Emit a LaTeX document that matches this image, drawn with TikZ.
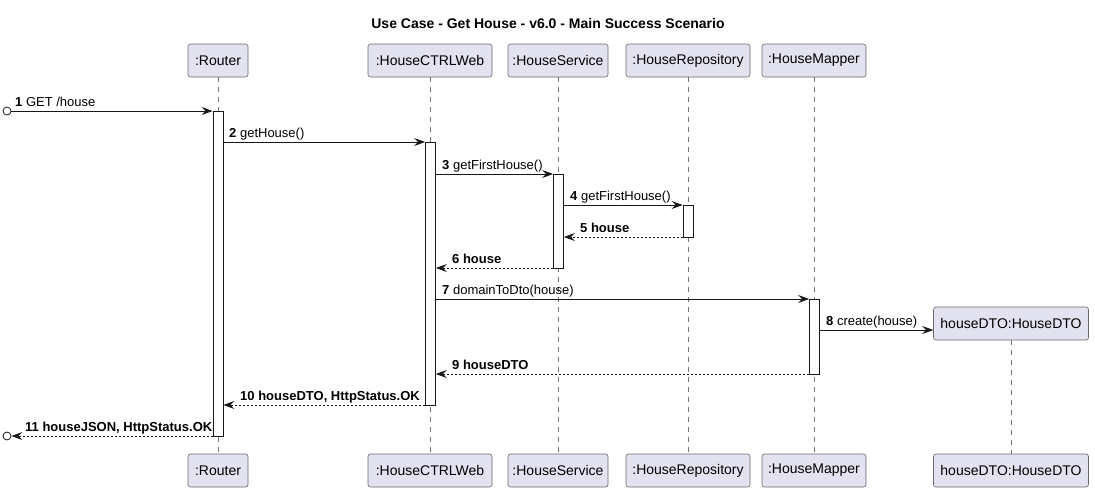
\documentclass[tikz,border=0pt]{standalone}
\usepackage{fontspec}
\setmainfont{Liberation Sans}
\usetikzlibrary{arrows.meta}
\definecolor{partfill}{HTML}{E2E2F0}
\definecolor{ink}{HTML}{181818}
\begin{document}
\begin{tikzpicture}[x=1pt,y=-1pt,
 part/.style={draw=ink!65, line width=0.6pt, fill=partfill, rounded corners=2.5pt, minimum height=33pt, inner sep=0pt, font=\fontsize{14}{16}\selectfont},
 life/.style={draw=ink!60, line width=0.5pt, dash pattern=on 5pt off 5pt},
 act/.style={draw=ink, fill=white, line width=0.8pt, minimum width=10pt, inner sep=0pt},
 msg/.style={draw=ink, line width=0.8pt, -{Stealth[length=11pt,width=8pt,inset=4pt]}},
 ret/.style={msg, dash pattern=on 2pt off 2pt},
 lbl/.style={anchor=base west, inner sep=0pt, font=\fontsize{13}{15}\selectfont},
 endpt/.style={circle, draw=ink, line width=0.8pt, fill=white, minimum size=8pt, inner sep=0pt},
 ]
\useasboundingbox (0,0) rectangle (1095,491);
\fill[white] (0,0) rectangle (1095,491);

\node[font=\fontsize{14}{16}\selectfont\bfseries] (title) at (548,23) {Use Case - Get House - v6.0 - Main Success Scenario};

% participants top
\node[part, minimum width=60pt] (rT) at (218,60.5) {:Router};
\node[part, minimum width=124pt] (cT) at (430,60.5) {:HouseCTRLWeb};
\node[part, minimum width=100pt] (sT) at (558,60.5) {:HouseService};
\node[part, minimum width=124pt] (pT) at (688,60.5) {:HouseRepository};
\node[part, minimum width=104pt] (mT) at (814,60.5) {:HouseMapper};
\node[part, minimum width=155pt] (dT) at (1011,323.5) {houseDTO:HouseDTO};
% participants bottom
\node[part, minimum width=60pt] (rB) at (218,470.5) {:Router};
\node[part, minimum width=124pt] (cB) at (430,470.5) {:HouseCTRLWeb};
\node[part, minimum width=100pt] (sB) at (558,470.5) {:HouseService};
\node[part, minimum width=124pt] (pB) at (688,470.5) {:HouseRepository};
\node[part, minimum width=104pt] (mB) at (814,470.5) {:HouseMapper};
\node[part, minimum width=155pt] (dB) at (1011,470.5) {houseDTO:HouseDTO};

% lifelines
\draw[life] (rT) -- (rB);
\draw[life] (cT) -- (cB);
\draw[life] (sT) -- (sB);
\draw[life] (pT) -- (pB);
\draw[life] (mT) -- (mB);
\draw[life] (dT) -- (dB);

% activations
\node[act, minimum height=325pt] (aR) at (218,273.5) {};
\node[act, minimum height=263pt] (aC) at (430.5,273.5) {};
\node[act, minimum height=94pt] (aS) at (558.5,221) {};
\node[act, minimum height=32pt] (aP) at (688,221) {};
\node[act, minimum height=75pt] (aM) at (814.5,336.5) {};

% messages
\node[endpt] (in1) at (7,111) {};
\draw[msg] (in1) -- (aR.west |- in1);
\node[lbl] (l1) at (15,106) {\textbf{1} GET /house};

\draw[msg] (aR.east |- 0,142) -- (aC.west |- 0,142);
\node[lbl] (l2) at (229,137) {\textbf{2} getHouse()};

\draw[msg] (aC.east |- 0,174) -- (aS.west |- 0,174);
\node[lbl] (l3) at (442,169) {\textbf{3} getFirstHouse()};

\draw[msg] (aS.east |- 0,205) -- (aP.west |- 0,205);
\node[lbl] (l4) at (570,200) {\textbf{4} getFirstHouse()};

\draw[ret] (aP.west |- 0,237) -- (aS.east |- 0,237);
\node[lbl] (l5) at (580,232) {\textbf{5 house}};

\draw[ret] (aS.west |- 0,268) -- (aC.east |- 0,268);
\node[lbl] (l6) at (452,263) {\textbf{6 house}};

\draw[msg] (aC.east |- 0,299) -- (aM.west |- 0,299);
\node[lbl] (l7) at (442,294) {\textbf{7} domainToDto(house)};

\draw[msg] (aM.east |- 0,330) -- (dT.west |- 0,330);
\node[lbl] (l8) at (826,325) {\textbf{8} create(house)};

\draw[ret] (aM.west |- 0,374) -- (aC.east |- 0,374);
\node[lbl] (l9) at (452,369) {\textbf{9 houseDTO}};

\draw[ret] (aC.west |- 0,405) -- (aR.east |- 0,405);
\node[lbl] (l10) at (240,400) {\textbf{10 houseDTO, HttpStatus.OK}};

\node[endpt] (out11) at (7,436) {};
\draw[ret] (aR.west |- out11) -- (out11);
\node[lbl] (l11) at (25,431) {\textbf{11 houseJSON, HttpStatus.OK}};
\end{tikzpicture}
\end{document}
